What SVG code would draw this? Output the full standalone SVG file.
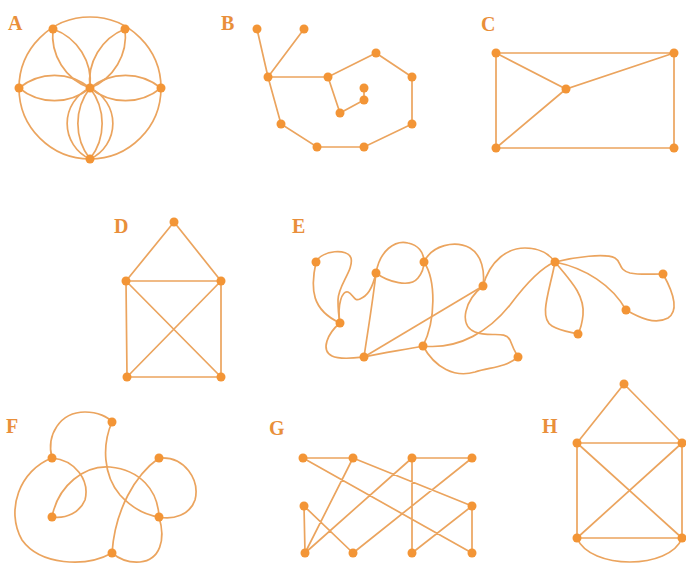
<svg xmlns="http://www.w3.org/2000/svg" width="686" height="568" viewBox="0 0 686 568">
<style>
.e{fill:none;stroke:#EBA45E;stroke-width:1.7;stroke-linecap:round}
.n{fill:#F39536}
.l{font-family:"Liberation Serif",serif;font-weight:bold;font-size:20px;fill:#E98F3A}
</style>
<rect width="686" height="568" fill="#fff"/>
<g id="labels">
<text class="l" x="8" y="30">A</text>
<text class="l" x="221" y="30">B</text>
<text class="l" x="481" y="31">C</text>
<text class="l" x="114" y="233">D</text>
<text class="l" x="292" y="233">E</text>
<text class="l" x="6" y="433">F</text>
<text class="l" x="269" y="435">G</text>
<text class="l" x="542" y="433">H</text>
</g>
<g id="connectors">
<!-- A -->
<circle class="e" cx="90" cy="88" r="71"/>
<path class="e" d="M19,88 A56,56 0 0 1 90,88"/>
<path class="e" d="M19,88 A56,56 0 0 0 90,88"/>
<path class="e" d="M161,88 A56,56 0 0 1 90,88"/>
<path class="e" d="M161,88 A56,56 0 0 0 90,88"/>
<path class="e" d="M53,29 A56,56 0 0 1 90,88"/>
<path class="e" d="M53,29 A56,56 0 0 0 90,88"/>
<path class="e" d="M125,29 A56,56 0 0 1 90,88"/>
<path class="e" d="M125,29 A56,56 0 0 0 90,88"/>
<path class="e" d="M90,88 A58,58 0 0 1 90,159"/>
<path class="e" d="M90,88 A58,58 0 0 0 90,159"/>
<path class="e" d="M90,88 A39,39 0 0 1 90,159"/>
<path class="e" d="M90,88 A39,39 0 0 0 90,159"/>
<!-- B -->
<path class="e" d="M257,29 L268,77 M304,29 L268,77 M268,77 L328,77 L376,53 L412,77 L412,124 L364,147 L317,147 L281,124 L268,77 M328,77 L340,113 L364,100 L364,88"/>
<!-- C -->
<path class="e" d="M496,53 L674,53 L674,148 L496,148 Z M496,53 L566,89 L674,53 M566,89 L496,148"/>
<!-- D -->
<path class="e" d="M174,222 L126,281 M174,222 L221,281 M126,281 L221,281 L221,377 L127,377 Z M126,281 L221,377 M221,281 L127,377"/>
<!-- E -->
<path class="e" d="M316,262 C310,290 312,310 340,323"/>
<path class="e" d="M316,262 C322,250 348,248 351,258 C354,270 338,285 338,300 C338,310 339,318 340,323"/>
<path class="e" d="M340,323 C337,305 342,290 348,292 C353,294 354,302 360,299 C367,296 372,290 376,273"/>
<path class="e" d="M376,273 C380,250 395,240 408,243 C418,245 424,252 424,262"/>
<path class="e" d="M376,273 C388,282 410,288 418,278 C422,273 424,268 424,262"/>
<path class="e" d="M424,262 C432,245 455,240 470,248 C482,255 485,272 483,286"/>
<path class="e" d="M424,262 C436,280 436,320 423,346"/>
<path class="e" d="M376,273 C373,300 368,330 364,357"/>
<path class="e" d="M340,323 C328,333 320,350 332,356 C340,360 355,358 364,357"/>
<path class="e" d="M364,357 L483,286"/>
<path class="e" d="M364,357 C385,352 405,350 423,346"/>
<path class="e" d="M423,346 C460,350 490,330 510,305 C525,285 540,268 555,262"/>
<path class="e" d="M423,346 C435,368 455,378 475,372 C490,367 505,368 518,357"/>
<path class="e" d="M483,286 C465,300 458,325 475,332 C490,338 505,330 510,340 C513,348 515,352 518,357"/>
<path class="e" d="M483,286 C490,260 508,248 525,248 C540,248 550,255 555,262"/>
<path class="e" d="M555,262 C550,290 538,318 552,326 C560,331 570,332 578,334"/>
<path class="e" d="M555,262 C570,280 585,295 583,315 C582,325 580,330 578,334"/>
<path class="e" d="M555,262 C585,268 612,285 626,310"/>
<path class="e" d="M555,262 C575,257 605,253 615,258 C622,262 618,270 630,273 C640,275 650,274 663,274"/>
<path class="e" d="M663,274 C672,290 680,310 668,318 C655,325 640,318 626,310"/>
<!-- F -->
<path class="e" d="M52,458 C46,435 60,412 85,412 C98,412 108,417 112,422"/>
<path class="e" d="M112,422 C102,445 103,475 120,495 C132,508 145,515 159,517"/>
<path class="e" d="M52,458 C75,460 90,480 85,500 C80,512 67,519 52,517"/>
<path class="e" d="M52,458 C20,470 5,510 22,540 C40,565 85,568 112,553"/>
<path class="e" d="M52,517 C58,485 85,465 110,467 C140,470 158,490 159,517"/>
<path class="e" d="M159,517 C166,540 160,560 140,562 C128,563 118,558 112,553"/>
<path class="e" d="M159,458 C135,475 115,510 112,553"/>
<path class="e" d="M159,458 C185,456 200,480 195,500 C190,515 173,520 159,517"/>
<!-- G -->
<path class="e" d="M303,458 L353,458 M412,458 L472,458 M303,458 L472,553 M353,458 L472,506 M353,458 L305,553 M412,458 L305,553 M472,458 L353,553 M412,458 L412,553 M304,506 L305,553 M304,506 L353,553 M472,506 L472,553 M472,506 L412,553"/>
<!-- H -->
<path class="e" d="M624,384 L577,443 M624,384 L682,443 M577,443 L682,443 L682,538 L577,538 Z M577,443 L682,538 M682,443 L577,538"/>
<path class="e" d="M577,538 C590,570 670,570 682,538"/>
</g>
<g id="A" class="n"><circle cx="53" cy="29" r="4.5"/><circle cx="125" cy="29" r="4.5"/><circle cx="19" cy="88" r="4.5"/><circle cx="90" cy="88" r="4.5"/><circle cx="161" cy="88" r="4.5"/><circle cx="90" cy="159" r="4.5"/></g>
<g id="B" class="n"><circle cx="257" cy="29" r="4.5"/><circle cx="304" cy="29" r="4.5"/><circle cx="268" cy="77" r="4.5"/><circle cx="328" cy="77" r="4.5"/><circle cx="376" cy="53" r="4.5"/><circle cx="412" cy="77" r="4.5"/><circle cx="412" cy="124" r="4.5"/><circle cx="364" cy="147" r="4.5"/><circle cx="317" cy="147" r="4.5"/><circle cx="281" cy="124" r="4.5"/><circle cx="340" cy="113" r="4.5"/><circle cx="364" cy="100" r="4.5"/><circle cx="364" cy="88" r="4.5"/></g>
<g id="C" class="n"><circle cx="496" cy="53" r="4.5"/><circle cx="674" cy="53" r="4.5"/><circle cx="566" cy="89" r="4.5"/><circle cx="496" cy="148" r="4.5"/><circle cx="674" cy="148" r="4.5"/></g>
<g id="D" class="n"><circle cx="174" cy="222" r="4.5"/><circle cx="126" cy="281" r="4.5"/><circle cx="221" cy="281" r="4.5"/><circle cx="127" cy="377" r="4.5"/><circle cx="221" cy="377" r="4.5"/></g>
<g id="E" class="n"><circle cx="316" cy="262" r="4.5"/><circle cx="376" cy="273" r="4.5"/><circle cx="424" cy="262" r="4.5"/><circle cx="483" cy="286" r="4.5"/><circle cx="555" cy="262" r="4.5"/><circle cx="663" cy="274" r="4.5"/><circle cx="626" cy="310" r="4.5"/><circle cx="578" cy="334" r="4.5"/><circle cx="340" cy="323" r="4.5"/><circle cx="364" cy="357" r="4.5"/><circle cx="423" cy="346" r="4.5"/><circle cx="518" cy="357" r="4.5"/></g>
<g id="F" class="n"><circle cx="112" cy="422" r="4.5"/><circle cx="52" cy="458" r="4.5"/><circle cx="159" cy="458" r="4.5"/><circle cx="52" cy="517" r="4.5"/><circle cx="159" cy="517" r="4.5"/><circle cx="112" cy="553" r="4.5"/></g>
<g id="G" class="n"><circle cx="303" cy="458" r="4.5"/><circle cx="353" cy="458" r="4.5"/><circle cx="412" cy="458" r="4.5"/><circle cx="472" cy="458" r="4.5"/><circle cx="304" cy="506" r="4.5"/><circle cx="472" cy="506" r="4.5"/><circle cx="305" cy="553" r="4.5"/><circle cx="353" cy="553" r="4.5"/><circle cx="412" cy="553" r="4.5"/><circle cx="472" cy="553" r="4.5"/></g>
<g id="H" class="n"><circle cx="624" cy="384" r="4.5"/><circle cx="577" cy="443" r="4.5"/><circle cx="682" cy="443" r="4.5"/><circle cx="577" cy="538" r="4.5"/><circle cx="682" cy="538" r="4.5"/></g>
</svg>
